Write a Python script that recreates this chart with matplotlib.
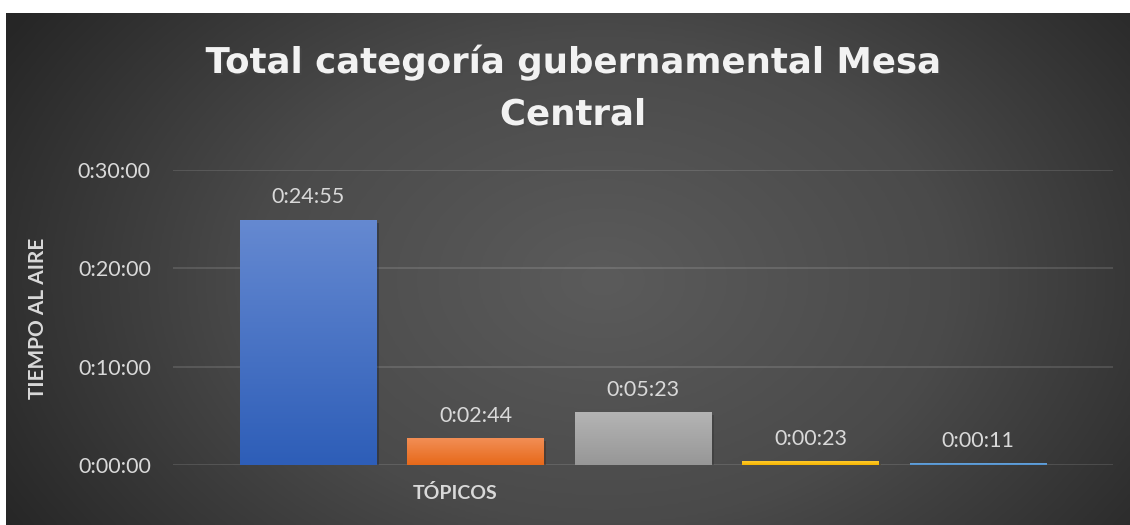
import numpy as np
import matplotlib
matplotlib.use("Agg")
import matplotlib.pyplot as plt
from matplotlib.colors import LinearSegmentedColormap
from matplotlib.ticker import FixedLocator, FuncFormatter
import matplotlib.patheffects as pe

# ---- data ----
categories = ["Tópico 1", "Tópico 2", "Tópico 3", "Tópico 4", "Tópico 5"]
seconds = [1495, 164, 323, 23, 11]          # 0:24:55, 0:02:44, 0:05:23, 0:00:23, 0:00:11
y_ticks = [0, 600, 1200, 1800]
title_lines = ["Total categoría gubernamental Mesa", "Central"]
y_label = "TIEMPO AL AIRE"
x_label = "TÓPICOS"

# bar gradient colours (top, bottom)
bar_grads = [("#6589d1", "#2e5eb8"),
             ("#f28e55", "#e7691a"),
             ("#b4b4b4", "#979797"),
             ("#ffcb2e", "#f5b400"),
             ("#6aa5dc", "#4d8fcf")]

def hms(s, _=None):
    s = int(round(s))
    return f"{s // 3600}:{(s % 3600) // 60:02d}:{s % 60:02d}"

plt.rcParams["font.family"] = ["Lato", "DejaVu Sans"]

W, H = 1130, 525
fig = plt.figure(figsize=(W / 100, H / 100), dpi=100, facecolor="white")

# ---- background with radial gradient ----
bg = fig.add_axes([6 / W, 0, (W - 6) / W, (H - 13) / H])
bg.set_axis_off()
ny, nx = 256, 560
yy, xx = np.mgrid[0:ny, 0:nx]
cx, cy = nx * 0.53, ny * 0.52
r = np.sqrt(((xx - cx) / (nx * 0.62)) ** 2 + ((yy - cy) / (ny * 0.95)) ** 2)
r = np.clip(r, 0, 1)
bg_cmap = LinearSegmentedColormap.from_list("bg", ["#5b5b5b", "#4a4a4a", "#262626"])
bg.imshow(r, cmap=bg_cmap, vmin=0, vmax=1, aspect="auto", interpolation="bicubic")

# ---- main axes ----
ax = fig.add_axes([173 / W, (H - 465) / H, 940 / W, 295 / H])
ax.patch.set_alpha(0)
x = np.arange(len(categories))
bars = ax.bar(x, seconds, width=0.812, color=[c[1] for c in bar_grads], zorder=3,
              path_effects=[pe.SimplePatchShadow(offset=(2, -2), alpha=0.35), pe.Normal()])

# gradients clipped to bars
grad = np.linspace(1, 0, 64).reshape(-1, 1)
for b, (top, bot) in zip(bars, bar_grads):
    cm = LinearSegmentedColormap.from_list("g", [bot, top])
    x0, w, h = b.get_x(), b.get_width(), b.get_height()
    im = ax.imshow(grad, cmap=cm, vmin=0, vmax=1, extent=[x0, x0 + w, 0, h],
                   aspect="auto", zorder=4, interpolation="bicubic")
    im.set_clip_path(b)

ax.set_xlim(2 - 2.806, 2 + 2.806)
ax.set_ylim(0, 1800)

for b, v in zip(bars, seconds):
    ax.annotate(hms(v), (b.get_x() + b.get_width() / 2, b.get_height()),
                xytext=(0, 9), textcoords="offset points", ha="center", va="bottom",
                color="#d9d9d9", fontsize=15.5, zorder=5)

ax.yaxis.set_major_locator(FixedLocator(y_ticks))
ax.yaxis.set_major_formatter(FuncFormatter(hms))
ax.set_xticks([])
ax.tick_params(axis="y", length=0, pad=16, labelcolor="#d9d9d9", labelsize=15.5)
for s in ax.spines.values():
    s.set_visible(False)
ax.grid(axis="y", color="white", alpha=0.12, linewidth=1.5, zorder=1)
ax.set_axisbelow(True)

# ---- texts ----
shadow = [pe.withSimplePatchShadow(offset=(1.5, -1.5), alpha=0.5)]
for line, base in zip(title_lines, [73, 125]):
    fig.text(573 / W, 1 - base / H, line, ha="center", va="baseline", fontsize=25.6,
             fontweight="bold", color="#f2f2f2", family=["DejaVu Sans"],
             path_effects=shadow)
fig.text(38 / W, 1 - 318 / H, y_label, rotation=90, ha="center", va="center",
         fontsize=15, fontweight="bold", color="#d9d9d9")
fig.text(455 / W, 1 - 493 / H, x_label, ha="center", va="center",
         fontsize=14, fontweight="bold", color="#d9d9d9")

fig.savefig("out.png", dpi=100, facecolor="white")
